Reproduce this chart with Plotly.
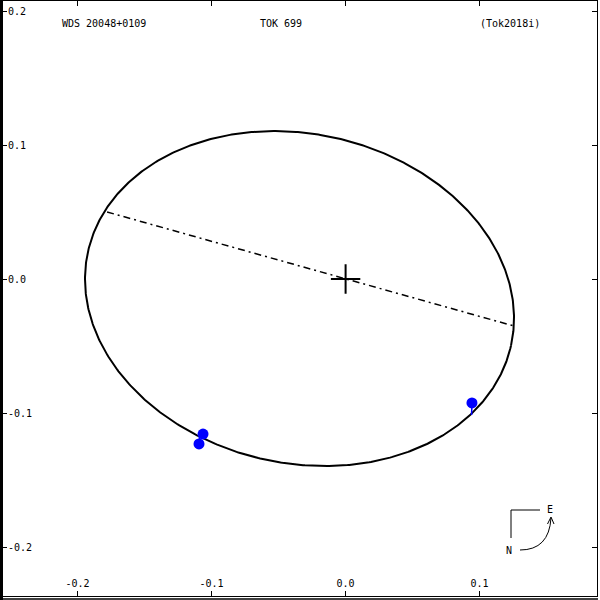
import numpy as np
import plotly.graph_objects as go

# ---- data ----
# orbit ellipse (apparent): centre, semi-axes, position angle of major axis (deg)
ell_center = [-0.0344, -0.0146]
ell_axes = [0.1617, 0.1229]
ell_angle_deg = [-12.5]

# line of nodes end points
node_x = [-0.178, 0.1257]
node_y = [0.050, -0.0351]

# primary star
prim_x = [0.0]
prim_y = [0.0]

# measured positions and their predicted positions on the orbit
obs_x = [-0.1064, -0.1094, 0.0943]
obs_y = [-0.1157, -0.1231, -0.0925]
pred_x = [-0.1060, -0.1090, 0.0940]
pred_y = [-0.1185, -0.1180, -0.1015]

xtick_vals = [-0.2, -0.1, 0.0, 0.1]
xtick_text = ["-0.2", "-0.1", "0.0", "0.1"]
ytick_vals = [0.2, 0.1, 0.0, -0.1, -0.2]
ytick_text = ["0.2", "0.1", "0.0", "-0.1", "-0.2"]

title_left = "WDS 20048+0109"
title_mid = "TOK 699"
title_right = "(Tok2018i)"

# ---- build ellipse ----
t = np.linspace(0, 2 * np.pi, 721)
phi = np.deg2rad(ell_angle_deg[0])
ex = ell_axes[0] * np.cos(t)
ey = ell_axes[1] * np.sin(t)
ell_x = ell_center[0] + ex * np.cos(phi) - ey * np.sin(phi)
ell_y = ell_center[1] + ex * np.sin(phi) + ey * np.cos(phi)

FONT = "DejaVu Sans Mono"

fig = go.Figure()
fig.add_trace(go.Scatter(x=ell_x, y=ell_y, mode="lines",
                         line=dict(color="black", width=2), hoverinfo="skip"))
fig.add_trace(go.Scatter(x=node_x, y=node_y, mode="lines",
                         line=dict(color="black", width=1.5, dash="7px,4px,2px,4px"),
                         hoverinfo="skip"))
# residual lines
rx, ry = [], []
for a, b, c, d in zip(obs_x, obs_y, pred_x, pred_y):
    rx += [a, c, None]
    ry += [b, d, None]
fig.add_trace(go.Scatter(x=rx, y=ry, mode="lines",
                         line=dict(color="#0000ff", width=1.5), hoverinfo="skip"))
fig.add_trace(go.Scatter(x=obs_x, y=obs_y, mode="markers",
                         marker=dict(color="#0000ff", size=11, line=dict(width=0))))
fig.add_trace(go.Scatter(x=prim_x, y=prim_y, mode="markers",
                         marker=dict(symbol="cross-thin", size=21,
                                     line=dict(color="black", width=2))))

# pixel -> paper helpers (plot area spans px 2..597, py 1..596)
def px(x):
    return (x - 2) / 595.0

def py(y):
    return (596 - y) / 595.0

ann_font = dict(family=FONT, size=10, color="black")
annotations = [
    dict(x=px(60), y=py(24), text=title_left, xanchor="left"),
    dict(x=px(281), y=py(24), text=title_mid, xanchor="center"),
    dict(x=px(510), y=py(24), text=title_right, xanchor="center"),
    dict(x=px(550), y=py(509), text="E", xanchor="center"),
    dict(x=px(509), y=py(550), text="N", xanchor="center"),
]
for a in annotations:
    a.update(xref="paper", yref="paper", yanchor="middle", showarrow=False, font=ann_font)

shapes = [
    # thick left border
    dict(type="rect", xref="paper", yref="paper", x0=px(0), x1=px(3), y0=py(600), y1=py(0),
         fillcolor="black", line=dict(width=0)),
    # second bottom border line
    dict(type="line", xref="paper", yref="paper", x0=px(0), x1=px(598), y0=py(599), y1=py(599),
         line=dict(color="black", width=1.5)),
    # compass
    dict(type="line", xref="paper", yref="paper", x0=px(511), x1=px(511), y0=py(538), y1=py(510),
         line=dict(color="black", width=1)),
    dict(type="line", xref="paper", yref="paper", x0=px(511), x1=px(540), y0=py(510), y1=py(510),
         line=dict(color="black", width=1)),
    dict(type="path", xref="paper", yref="paper",
         path=f"M {px(520)} {py(550)} Q {px(549)} {py(550)} {px(551)} {py(518)}",
         line=dict(color="black", width=1)),
    dict(type="path", xref="paper", yref="paper",
         path=f"M {px(547.5)} {py(524)} L {px(551)} {py(517)} L {px(554)} {py(524)}",
         line=dict(color="black", width=1)),
]

axis_common = dict(showgrid=False, zeroline=False, showline=True, linecolor="black",
                   linewidth=1, mirror="ticks", ticks="inside", ticklen=5,
                   tickcolor="black", tickwidth=1, ticklabelposition="inside",
                   tickfont=dict(family=FONT, size=10, color="black"), fixedrange=True)

fig.update_layout(
    width=600, height=600,
    margin=dict(l=2, r=3, t=1, b=4, pad=0),
    paper_bgcolor="white", plot_bgcolor="white",
    showlegend=False,
    xaxis=dict(range=[-0.25642, 0.18761], tickvals=xtick_vals, ticktext=xtick_text,
               ticklabelstandoff=1, **axis_common),
    yaxis=dict(range=[-0.23657, 0.20746], tickvals=ytick_vals, ticktext=ytick_text,
               ticklabelstandoff=0, **axis_common),
    annotations=annotations,
    shapes=shapes,
)

fig.write_html("out.html", config={"displayModeBar": False},
               post_script="document.body.style.margin='0px';document.body.style.overflow='hidden';")
